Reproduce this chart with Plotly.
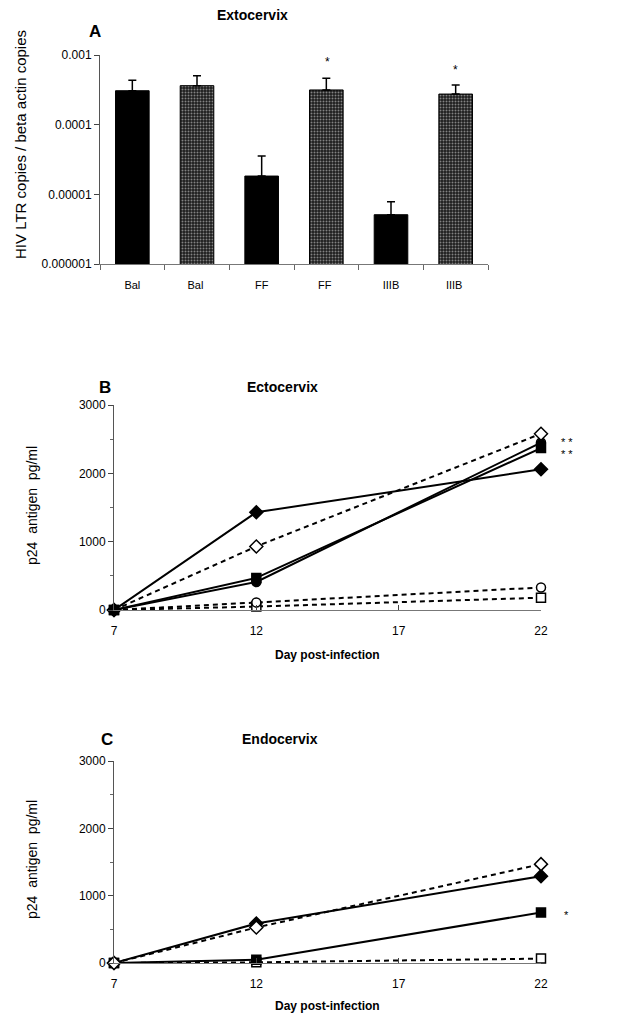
import plotly.graph_objects as go

W, H = 622, 1021
OFF = 8  # default page body margin
FW, FH = W - 2 * OFF, H - 2 * OFF

# ---------- Panel A data ----------
a_categories = ["Bal", "Bal ", "FF", "FF ", "IIIB", "IIIB "]
a_values = [3.07e-4, 3.63e-4, 1.83e-5, 3.15e-4, 5.1e-6, 2.75e-4]
a_err_plus = [1.26e-4, 1.42e-4, 1.72e-5, 1.47e-4, 2.75e-6, 0.96e-4]
a_stippled = [False, True, False, True, False, True]

# ---------- Panel B data ----------
days = [7, 12, 22]
b_filled_diamond = [0, 1430, 2060]
b_open_diamond = [0, 930, 2580]
b_filled_square = [0, 470, 2370]
b_filled_circle = [0, 410, 2450]
b_open_circle = [0, 110, 330]
b_open_square = [0, 50, 180]

# ---------- Panel C data ----------
c_open_diamond = [0, 527, 1468]
c_filled_diamond = [0, 586, 1290]
c_filled_square = [0, 50, 750]
c_open_square = [0, 10, 65]

FONT = "Liberation Sans, Arial, Helvetica, sans-serif"


def px(x):
    return (x - OFF) / FW


def py(y):
    return 1 - (y - OFF) / FH


fig = go.Figure()

# Panel A bars
for i, cat in enumerate(a_categories):
    if a_stippled[i]:
        marker = dict(color="#1c1c1c", line=dict(color="black", width=1),
                      pattern=dict(shape=".", bgcolor="#1c1c1c", fgcolor="#e8e8e8",
                                   size=3, solidity=0.35))
    else:
        marker = dict(color="black", line=dict(color="black", width=1))
    fig.add_trace(go.Bar(
        x=[cat], y=[a_values[i]], marker=marker, width=0.52,
        error_y=dict(type="data", symmetric=False, array=[a_err_plus[i]],
                     arrayminus=[0], color="black", thickness=1.5, width=4),
        xaxis="x", yaxis="y", showlegend=False))


def line_trace(xs, ys, symbol, filled, dashed, size, axis):
    return go.Scatter(
        x=xs, y=ys, mode="lines+markers",
        line=dict(color="black", width=2, dash="5px,4px" if dashed else "solid"),
        marker=dict(symbol=symbol, size=size,
                    color="black" if filled else "white",
                    line=dict(color="black", width=1.5)),
        xaxis="x" + axis, yaxis="y" + axis, showlegend=False, cliponaxis=False)


# Panel B
fig.add_trace(line_trace(days, b_open_square, "square", False, True, 9, "2"))
fig.add_trace(line_trace(days, b_open_circle, "circle", False, True, 9, "2"))
fig.add_trace(line_trace(days, b_filled_circle, "circle", True, False, 9, "2"))
fig.add_trace(line_trace(days, b_filled_square, "square", True, False, 9, "2"))
fig.add_trace(line_trace(days, b_open_diamond, "diamond", False, True, 10, "2"))
fig.add_trace(line_trace(days, b_filled_diamond, "diamond", True, False, 10, "2"))

# Panel C
fig.add_trace(line_trace(days, c_open_square, "square", False, True, 9, "3"))
fig.add_trace(line_trace(days, c_filled_square, "square", True, False, 9, "3"))
fig.add_trace(line_trace(days, c_filled_diamond, "diamond", True, False, 10, "3"))
fig.add_trace(line_trace(days, c_open_diamond, "diamond", False, True, 10, "3"))

tickfont = dict(family=FONT, size=12, color="black")

lin_y = dict(range=[0, 3000], tickvals=[0, 1000, 2000, 3000], ticks="outside",
             ticklen=5, tickcolor="#444", showline=True, linecolor="#555",
             linewidth=1, showgrid=False, zeroline=False, tickfont=tickfont,
             minor=dict(tickvals=[500, 1500, 2500], ticks="outside", ticklen=3,
                        tickcolor="#666"),
             automargin=False, fixedrange=True)
lin_x = dict(range=[7, 22], tickvals=[7, 12, 17, 22], ticks="inside", ticklen=5,
             tickcolor="#444", showline=True, linecolor="#777", linewidth=1,
             showgrid=False, zeroline=False, tickfont=tickfont, automargin=False,
             ticklabelstandoff=10)

fig.update_layout(
    width=FW, height=FH, margin=dict(l=0, r=0, t=0, b=0),
    paper_bgcolor="white", plot_bgcolor="white",
    font=dict(family=FONT, color="black"),
    bargap=0.48,
    xaxis=dict(domain=[px(100), px(488)], type="category", ticks="outside",
               tickson="boundaries", ticklen=5, tickcolor="#666", showline=True,
               linecolor="#777", linewidth=1, showgrid=False,
               tickfont=dict(family=FONT, size=11, color="black"),
               ticklabelstandoff=11, automargin=False),
    yaxis=dict(domain=[py(264), py(55)], type="log", range=[-6, -3],
               tickvals=[1e-6, 1e-5, 1e-4, 1e-3],
               ticktext=["0.000001", "0.00001", "0.0001", "0.001"],
               ticks="outside", ticklen=5, tickcolor="#444", showline=True,
               linecolor="#555", linewidth=1, showgrid=False, zeroline=False,
               tickfont=tickfont, automargin=False),
    xaxis2=dict(domain=[px(114), px(541)], anchor="y2", **lin_x),
    yaxis2=dict(domain=[py(610), py(405)], anchor="x2", **lin_y),
    xaxis3=dict(domain=[px(114), px(541)], anchor="y3", **lin_x),
    yaxis3=dict(domain=[py(963), py(761)], anchor="x3", **lin_y),
)


def ann(text, x, y, size, bold=False, angle=0):
    fig.add_annotation(text=f"<b>{text}</b>" if bold else text,
                       x=px(x), y=py(y), xref="paper", yref="paper",
                       showarrow=False, textangle=angle,
                       font=dict(family=FONT, size=size, color="black"),
                       xanchor="center", yanchor="middle")


# Panel A texts
ann("Extocervix", 252, 15, 14, bold=True)
ann("A", 95, 31, 17, bold=True)
ann("HIV LTR copies / beta actin copies", 20, 145, 15, angle=-90)
ann("*", 327, 62, 12)
ann("*", 455, 70, 12)

# Panel B texts
ann("B", 105, 387, 17, bold=True)
ann("Ectocervix", 282, 387, 14, bold=True)
ann("p24  antigen  pg/ml", 32, 506, 14, angle=-90)
ann("Day post-infection", 328, 655, 12, bold=True)
ann("* *", 567, 442, 11)
ann("* *", 567, 454, 11)

# Panel C texts
ann("C", 107, 739, 17, bold=True)
ann("Endocervix", 280, 739, 14, bold=True)
ann("p24  antigen  pg/ml", 32, 860, 14, angle=-90)
ann("Day post-infection", 328, 1006, 12, bold=True)
ann("*", 566, 915, 11)

fig.write_html("out.html")
